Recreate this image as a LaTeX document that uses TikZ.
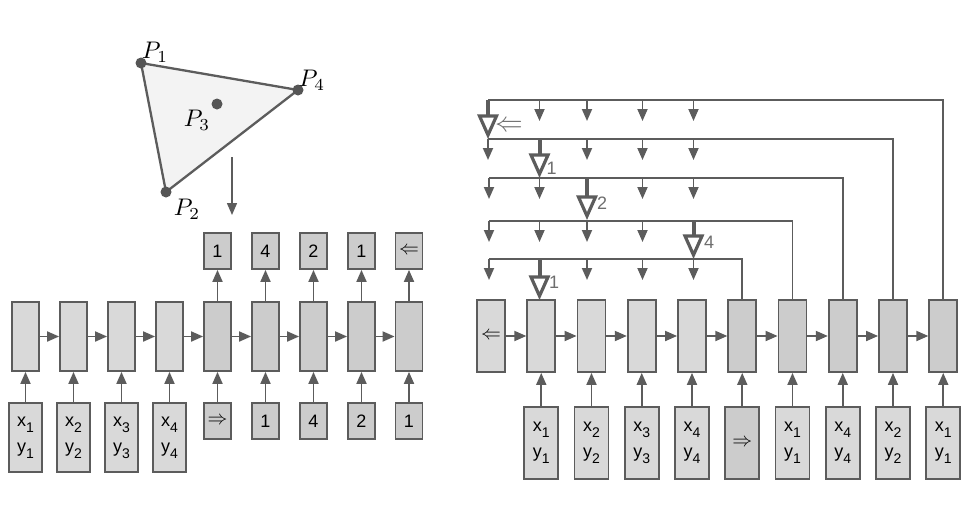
\documentclass[tikz,border=0pt]{standalone}
\usepackage{fontspec}
\newfontfamily\boxfont{Liberation Sans}
\usetikzlibrary{arrows.meta}
\definecolor{ln}{HTML}{5C5C5C}
\definecolor{dotc}{HTML}{555555}
\definecolor{encf}{HTML}{D9D9D9}
\definecolor{decf}{HTML}{CCCCCC}
\definecolor{trif}{HTML}{F3F3F3}
\definecolor{lbl}{HTML}{6E6E6E}
\newcommand\sbs[1]{\raisebox{-0.6ex}{\fontsize{14}{14}\selectfont #1}}
\newcommand\xy[1]{x\sbs{#1}\\[-2pt]y\sbs{#1}}
\newcommand\RA{\scalebox{1.15}{$\Rightarrow$}}
\newcommand\LA{\scalebox{1.15}{$\Leftarrow$}}
\newcommand\PP[1]{\scalebox{2.4}{$P_{#1}$}}
\begin{document}
\begin{tikzpicture}[x=1pt,y=-1pt,
  box/.style={draw=ln,line width=1.8pt,inner sep=0pt,
    font=\boxfont\fontsize{18}{28}\selectfont,align=center},
  enc/.style={box,fill=encf},
  dec/.style={box,fill=decf},
  cellL/.style={minimum width=27pt,minimum height=69pt},
  inL/.style={minimum width=33pt,minimum height=69pt},
  smallL/.style={minimum width=27pt,minimum height=36pt},
  cellR/.style={minimum width=28pt,minimum height=72pt},
  inR/.style={minimum width=34pt,minimum height=72pt},
  conn/.style={draw=ln,line width=1.8pt,-{Triangle[length=12pt,width=10pt]}},
  wire/.style={draw=ln,line width=1.8pt},
  dot/.style={circle,fill=dotc,inner sep=0pt,minimum size=11pt},
  plabel/.style={inner sep=0pt},
  plbl/.style={text=lbl,font=\boxfont\fontsize{18}{20}\selectfont,inner sep=0pt},
]
\useasboundingbox[fill=white] (0,0) rectangle (972,517);

% ---------- triangle ----------
\coordinate (Q1) at (141,63);
\coordinate (Q4) at (298,90);
\coordinate (Q2) at (166,192);
\draw[fill=trif,draw=ln,line width=2.3pt,line join=round] (Q1)--(Q4)--(Q2)--cycle;
\node[dot] (P1) at (Q1) {};
\node[dot] (P4) at (Q4) {};
\node[dot] (P2) at (Q2) {};
\node[dot] (P3) at (217,104) {};
\node[plabel] (lP1) at (155,52) {\PP{1}};
\node[plabel] (lP4) at (312,80) {\PP{4}};
\node[plabel] (lP3) at (197,120) {\PP{3}};
\node[plabel] (lP2) at (187,209) {\PP{2}};
\coordinate (a1) at (232,157);
\coordinate (a2) at (232,215);
\draw[conn,line width=1.5pt] (a1) -- (a2);

% ---------- left panel ----------
\node[enc,cellL] (L1) at (25.5,336.5) {};
\node[enc,cellL] (L2) at (73.5,336.5) {};
\node[enc,cellL] (L3) at (121.5,336.5) {};
\node[enc,cellL] (L4) at (169.5,336.5) {};
\node[dec,cellL] (L5) at (217.5,336.5) {};
\node[dec,cellL] (L6) at (265.5,336.5) {};
\node[dec,cellL] (L7) at (313.5,336.5) {};
\node[dec,cellL] (L8) at (361.5,336.5) {};
\node[dec,cellL] (L9) at (409,336.5) {};

\node[enc,inL] (LI1) at (25.5,437.5) {\xy{1}};
\node[enc,inL] (LI2) at (73.5,437.5) {\xy{2}};
\node[enc,inL] (LI3) at (121.5,437.5) {\xy{3}};
\node[enc,inL] (LI4) at (169.5,437.5) {\xy{4}};
\node[dec,smallL] (LD5) at (217.5,421) {\RA};
\node[dec,smallL] (LD6) at (265.5,421) {1};
\node[dec,smallL] (LD7) at (313.5,421) {4};
\node[dec,smallL] (LD8) at (361.5,421) {2};
\node[dec,smallL] (LD9) at (409,421) {1};

\node[dec,smallL] (LO5) at (217.5,251) {1};
\node[dec,smallL] (LO6) at (265.5,251) {4};
\node[dec,smallL] (LO7) at (313.5,251) {2};
\node[dec,smallL] (LO8) at (361.5,251) {1};
\node[dec,smallL] (LO9) at (409,251) {\LA};

\foreach \i/\j in {1/2,2/3,3/4,4/5,5/6,6/7,7/8,8/9}
  \draw[conn] (L\i) -- (L\j);
\foreach \i in {1,2,3,4}
  \draw[conn] (LI\i) -- (L\i);
\foreach \i in {5,6,7,8,9}{
  \draw[conn] (LD\i) -- (L\i);
  \draw[conn] (L\i) -- (LO\i);
}

% ---------- right panel ----------
\node[enc,cellR] (R1) at (491,336) {\LA};
\node[enc,cellR] (R2) at (541.25,336) {};
\node[enc,cellR] (R3) at (591.5,336) {};
\node[enc,cellR] (R4) at (641.75,336) {};
\node[enc,cellR] (R5) at (692,336) {};
\node[dec,cellR] (R6) at (742.25,336) {};
\node[dec,cellR] (R7) at (792.5,336) {};
\node[dec,cellR] (R8) at (842.75,336) {};
\node[dec,cellR] (R9) at (893,336) {};
\node[dec,cellR] (R10) at (943.25,336) {};

\node[enc,inR] (RI2) at (541.25,443) {\xy{1}};
\node[enc,inR] (RI3) at (591.5,443) {\xy{2}};
\node[enc,inR] (RI4) at (641.75,443) {\xy{3}};
\node[enc,inR] (RI5) at (692,443) {\xy{4}};
\node[dec,inR] (RI6) at (742.25,443) {\RA};
\node[enc,inR] (RI7) at (792.5,443) {\xy{1}};
\node[enc,inR] (RI8) at (842.75,443) {\xy{4}};
\node[enc,inR] (RI9) at (893,443) {\xy{2}};
\node[enc,inR] (RI10) at (943.25,443) {\xy{1}};

\foreach \i/\j in {1/2,2/3,3/4,4/5,5/6,6/7,7/8,8/9,9/10}
  \draw[conn] (R\i) -- (R\j);
\foreach \i in {2,...,10}
  \draw[conn] (RI\i) -- (R\i);

% pointer lines
\coordinate (T1) at (488,100);
\coordinate (T2) at (488,139);
\coordinate (T3) at (489,178);
\coordinate (T4) at (489,221);
\coordinate (T5) at (489,259);
\draw[wire] (R10.north) |- (T1);
\draw[wire] (R9.north) |- (T2);
\draw[wire] (R8.north) |- (T3);
\draw[wire] (R7.north) |- (T4);
\draw[wire] (R6.north) |- (T5);

% small attention arrows (every column except the selected one)
\foreach \ly/\cols in {100/{539.5,587,642.5,693.5},
                       139/{488,587,642.5,693.5},
                       178/{489,539.5,642.5,693.5},
                       221/{489,539.5,587,642.5},
                       259/{489,587,642.5,693.5}}{
  \foreach \cx in \cols
    \draw[conn] (\cx,\ly) -- (\cx,\ly+21);
}

% selected pointer arrows (thick stem, open head)
\foreach \cx/\ly/\tip in {488/100/139, 539.5/139/178, 587/178/220, 693.5/221/259, 539.5/259/300}{
  \draw[ln,line width=4pt] (\cx,\ly) -- (\cx,\tip-23);
  \draw[ln,line width=3.2pt,fill=white,line join=miter]
    (\cx-8.5,\tip-23) -- (\cx+8.5,\tip-23) -- (\cx,\tip-4) -- cycle;
}
\node[plbl] (s1) at (509,126) {\scalebox{1.6}{$\Leftarrow$}};
\node[plbl] (s2) at (551.5,168.5) {1};
\node[plbl] (s3) at (602,203.5) {2};
\node[plbl] (s4) at (709,242) {4};
\node[plbl] (s5) at (554,282) {1};
\end{tikzpicture}
\end{document}
